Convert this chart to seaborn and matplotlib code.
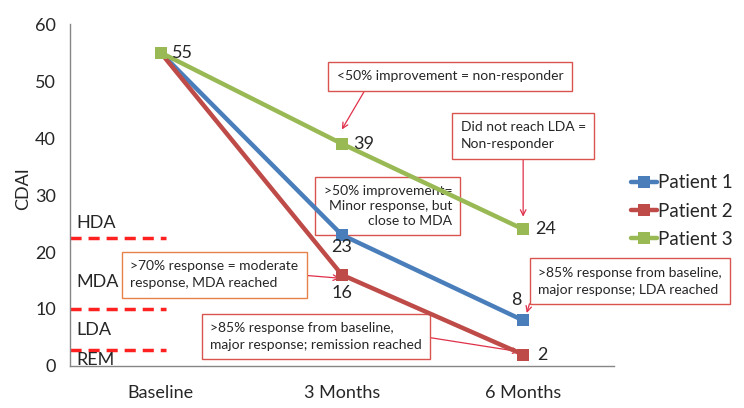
import matplotlib
matplotlib.use("Agg")
import matplotlib.pyplot as plt
import seaborn as sns
import pandas as pd
from matplotlib.ticker import FixedLocator

categories = ["Baseline", "3 Months", "6 Months"]
patients = ["Patient 1", "Patient 2", "Patient 3"]
patient1 = [55, 23, 8]
patient2 = [55, 16, 2]
patient3 = [55, 39, 24]
colors = ["#4A7EBB", "#BE4B48", "#98B954"]
y_ticks = [0, 10, 20, 30, 40, 50, 60]
thresholds = [22.5, 10, 2.8]
zone_labels = ["HDA", "MDA", "LDA", "REM"]
zone_label_y = [25.1, 14.7, 6.3, 1.0]

rows = []
for name, vals in zip(patients, [patient1, patient2, patient3]):
    for c, v in zip(categories, vals):
        rows.append({"Time": c, "CDAI": v, "Patient": name})
df = pd.DataFrame(rows)

sns.set_style("white")
plt.rcParams["font.family"] = ["Lato", "DejaVu Sans"]

fig = plt.figure(figsize=(7.44, 4.08), dpi=100)
ax = fig.add_axes([0.094, 0.103, 0.731, 0.838])

sns.lineplot(data=df, x="Time", y="CDAI", hue="Patient", hue_order=patients,
             palette=colors, marker="s", markersize=8, linewidth=3.2,
             markeredgewidth=0, ax=ax, legend=True, sort=False, zorder=3)

ax.set_xlim(-0.5, 2.5)
ax.set_ylim(0, 60)
ax.set_yticks(y_ticks)
ax.set_xticks([0, 1, 2])
ax.set_xticklabels(categories)
ax.xaxis.set_minor_locator(FixedLocator([-0.5, 0.5, 1.5, 2.5]))
ax.tick_params(axis="x", which="major", length=0, pad=14, labelsize=13)
ax.tick_params(axis="x", which="minor", length=5, color="#868686", direction="in")
ax.tick_params(axis="y", length=4, color="#868686", direction="out", labelsize=13, pad=6)
ax.set_xlabel("")
ax.set_ylabel("CDAI", fontsize=13, labelpad=6)
ax.yaxis.set_label_coords(-0.072, 0.52)
for s in ["top", "right"]:
    ax.spines[s].set_visible(False)
for s in ["left", "bottom"]:
    ax.spines[s].set_color("#868686")
    ax.spines[s].set_linewidth(1)

# threshold lines
for t in thresholds:
    ax.plot([-0.5, 0.03], [t, t], color="#FF2020", linestyle=(0, (3.2, 2)), linewidth=2.5)
for lab, yy in zip(zone_labels, zone_label_y):
    ax.text(-0.465, yy, lab, fontsize=13, va="center", ha="left")

# value labels
label_pos = {
    (0, 2): (0.065, 0, "left", "center"),
    (1, 2): (0.065, 0, "left", "center"),
    (2, 2): (0.065, 0, "left", "center"),
    (1, 0): (0.0, -0.7, "center", "top"),
    (2, 0): (-0.04, 3.6, "center", "center"),
    (1, 1): (0.0, -3.2, "center", "center"),
    (2, 1): (0.08, 0, "left", "center"),
}
all_vals = [patient1, patient2, patient3]
for (i, p), (dx, dy, ha, va) in label_pos.items():
    v = all_vals[p][i]
    ax.text(i + dx, v + dy, str(v), fontsize=13, ha=ha, va=va, zorder=4)

box_kw = dict(boxstyle="square,pad=0.6", fc="white", ec="#D9534F", lw=1)
arrow_kw = dict(arrowstyle="->", color="#E0304A", lw=0.9, shrinkA=0, shrinkB=0)
fs = 10
ann_kw = dict(fontsize=fs, ha="center", va="center", zorder=1, annotation_clip=False)

ax.annotate("<50% improvement = non-responder", xy=(1.0, 41.5), xytext=(1.596, 50.8),
            bbox=box_kw, arrowprops=dict(arrow_kw, relpos=(0.145, 0)), **ann_kw)
ax.annotate("Did not reach LDA =\nNon-responder", xy=(2.0, 26.2), xytext=(2.0, 40.4),
            bbox=box_kw, linespacing=1.5, multialignment="left",
            arrowprops=dict(arrow_kw, relpos=(0.5, 0)), **ann_kw)
ax.annotate(">50% improvement=\nMinor response, but\nclose to MDA", xy=(1.028, 23.5), xytext=(1.254, 28.1),
            bbox=box_kw, multialignment="right", linespacing=1.3,
            arrowprops=dict(arrow_kw, relpos=(1, 0.5)), **ann_kw)
ax.annotate(">70% response = moderate\nresponse, MDA reached", xy=(0.99, 15.4), xytext=(0.297, 16.0),
            linespacing=1.5, multialignment="left", bbox=dict(box_kw, ec="#E8804A"),
            arrowprops=dict(arrow_kw, relpos=(1, 0.5)), **ann_kw)
ax.annotate(">85% response from baseline,\nmajor response; remission reached", xy=(1.98, 2.5), xytext=(0.857, 5.2),
            bbox=box_kw, linespacing=1.5, multialignment="left",
            arrowprops=dict(arrow_kw, relpos=(1, 0.5)), **ann_kw)
ax.annotate(">85% response from baseline,\nmajor response; LDA reached", xy=(2.02, 9.3), xytext=(2.59, 14.9),
            bbox=box_kw, linespacing=1.5, multialignment="left",
            arrowprops=dict(arrow_kw, relpos=(0, 0.75)), **ann_kw)

leg = ax.legend(loc="upper left", bbox_to_anchor=(1.0, 0.61), frameon=False,
                fontsize=13.5, handlelength=1.4, handletextpad=0.05, labelspacing=0.6)
for h in leg.legend_handles:
    h.set_linewidth(3.2)
    h.set_markersize(8)

fig.savefig("out.png", dpi=100, facecolor="white")
